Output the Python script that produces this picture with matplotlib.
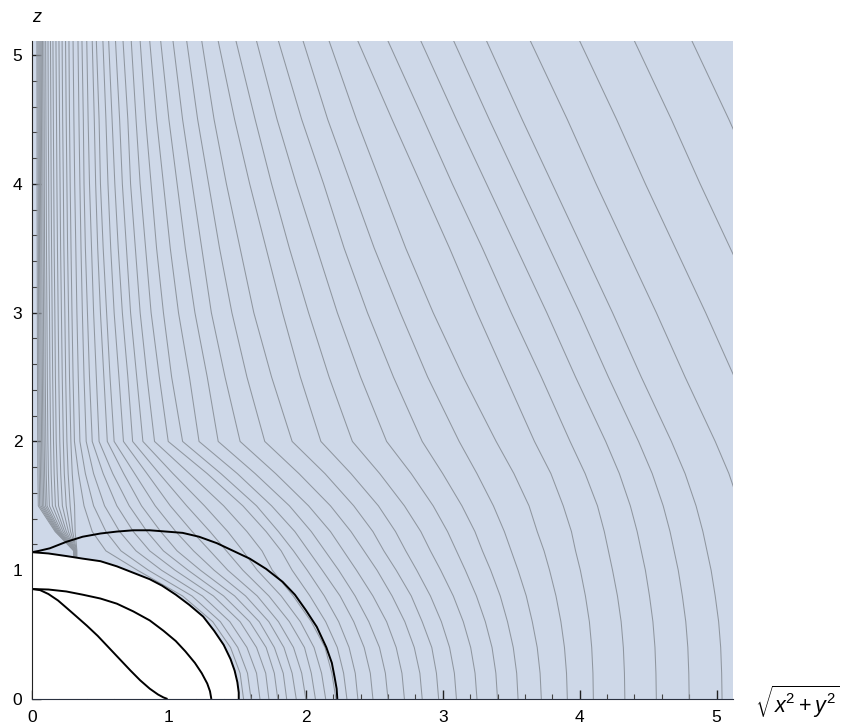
import matplotlib
matplotlib.use("Agg")
import matplotlib.pyplot as plt
import numpy as np
from matplotlib.ticker import MultipleLocator

plt.rcParams['font.family'] = ['Liberation Sans', 'DejaVu Sans']
plt.rcParams['mathtext.fontset'] = 'custom'
plt.rcParams['mathtext.rm'] = 'Liberation Sans'
plt.rcParams['mathtext.it'] = 'Liberation Sans:italic'

nan = np.nan

# black boundary curves (rho, z)
inner_ergo_x = [0.0, 0.06, 0.12, 0.19, 0.25, 0.32, 0.40, 0.48, 0.56, 0.64, 0.72, 0.79, 0.86, 0.92, 0.96, 0.99]
inner_ergo_z = [0.854, 0.845, 0.815, 0.765, 0.71, 0.645, 0.57, 0.49, 0.40, 0.31, 0.22, 0.145, 0.08, 0.035, 0.012, 0.0]
inner_hor_x = [0.0, 0.12, 0.25, 0.37, 0.50, 0.62, 0.74, 0.86, 0.96, 1.05, 1.12, 1.19, 1.24, 1.28, 1.30, 1.31]
inner_hor_z = [0.854, 0.85, 0.835, 0.81, 0.78, 0.74, 0.68, 0.61, 0.53, 0.45, 0.37, 0.28, 0.20, 0.12, 0.06, 0.0]
outer_hor_x = [0.0, 0.12, 0.25, 0.37, 0.50, 0.62, 0.74, 0.86, 0.95, 1.05, 1.15, 1.25, 1.33, 1.40, 1.45, 1.48, 1.50, 1.51, 1.51]
outer_hor_z = [1.14, 1.13, 1.11, 1.09, 1.07, 1.03, 0.98, 0.93, 0.88, 0.81, 0.73, 0.64, 0.53, 0.42, 0.31, 0.22, 0.13, 0.05, 0.0]
outer_ergo_x = [0.0, 0.05, 0.13, 0.25, 0.37, 0.50, 0.62, 0.74, 0.86, 0.98, 1.10, 1.22, 1.35, 1.47, 1.59,
                1.71, 1.83, 1.92, 2.00, 2.08, 2.15, 2.19, 2.21, 2.225, 2.23]
outer_ergo_z = [1.14, 1.15, 1.17, 1.22, 1.26, 1.285, 1.30, 1.31, 1.31, 1.30, 1.29, 1.26, 1.21, 1.15, 1.09,
                1.01, 0.91, 0.81, 0.69, 0.56, 0.40, 0.28, 0.17, 0.08, 0.0]

# gray contour lines: x position of every line where it crosses each height z
# (15 lines that end on the horizon, 29 that reach z = 0, 4 that leave on the right)
z_levels = [5.11, 4.5, 4.0, 3.5, 3.0, 2.5, 2.0, 1.75, 1.5, 1.3, 1.15, 1.0, 0.8, 0.6, 0.4, 0.2, 0.0]

x_z511 = [0.036, 0.044, 0.052, 0.06, 0.068, 0.077, 0.087, 0.10, 0.117, 0.135, 0.153, 0.175, 0.197, 0.22, 0.245,
          0.27, 0.30, 0.336, 0.365, 0.40, 0.44, 0.47, 0.518, 0.56, 0.61, 0.665, 0.725, 0.79, 0.86, 0.94, 1.03, 1.13, 1.24,
          1.36, 1.49, 1.64, 1.80, 1.98, 2.17, 2.38, 2.60, 2.84, 3.08, 3.32,
          3.64, 4.0, 4.4, 4.82]
x_z45 = [0.037, 0.045, 0.053, 0.061, 0.069, 0.079, 0.089, 0.102, 0.119, 0.138, 0.156, 0.179, 0.201, 0.224, 0.25,
         0.274, 0.306, 0.343, 0.375, 0.41, 0.455, 0.49, 0.54, 0.585, 0.64, 0.70, 0.76, 0.83, 0.91, 1.0, 1.10, 1.21, 1.33,
         1.48, 1.63, 1.79, 1.97, 2.16, 2.37, 2.63, 2.86, 3.10, 3.34, 3.58,
         3.91, 4.27, 4.67, 5.09]
x_z40 = [0.037, 0.046, 0.054, 0.062, 0.071, 0.08, 0.09, 0.104, 0.122, 0.14, 0.159, 0.182, 0.205, 0.229, 0.255,
         0.279, 0.312, 0.35, 0.38, 0.42, 0.465, 0.50, 0.555, 0.605, 0.66, 0.72, 0.79, 0.87, 0.96, 1.06, 1.17, 1.29, 1.42,
         1.59, 1.75, 1.93, 2.13, 2.33, 2.55, 2.84, 3.07, 3.32, 3.56, 3.80,
         4.12, 4.48, 4.88, 5.30]
x_z35 = [0.038, 0.047, 0.055, 0.064, 0.072, 0.082, 0.092, 0.106, 0.124, 0.143, 0.162, 0.186, 0.209, 0.233, 0.26,
         0.285, 0.32, 0.358, 0.39, 0.435, 0.48, 0.52, 0.575, 0.63, 0.69, 0.755, 0.83, 0.91, 1.01, 1.12, 1.24, 1.37, 1.52,
         1.71, 1.88, 2.08, 2.28, 2.50, 2.73, 3.05, 3.29, 3.54, 3.78, 4.02,
         4.34, 4.70, 5.10, 5.52]
x_z30 = [0.039, 0.048, 0.057, 0.065, 0.074, 0.084, 0.095, 0.109, 0.128, 0.147, 0.167, 0.191, 0.215, 0.24, 0.267,
         0.292, 0.328, 0.368, 0.405, 0.45, 0.50, 0.545, 0.60, 0.66, 0.72, 0.79, 0.87, 0.96, 1.07, 1.19, 1.31, 1.46, 1.62,
         1.83, 2.02, 2.23, 2.45, 2.69, 2.93, 3.25, 3.50, 3.76, 4.0, 4.24,
         4.56, 4.92, 5.32, 5.74]
x_z25 = [0.04, 0.049, 0.058, 0.067, 0.076, 0.086, 0.097, 0.112, 0.131, 0.151, 0.171, 0.196, 0.221, 0.246, 0.274,
         0.30, 0.338, 0.38, 0.42, 0.47, 0.525, 0.57, 0.635, 0.70, 0.765, 0.84, 0.93, 1.02, 1.15, 1.28, 1.41, 1.57, 1.75,
         1.96, 2.17, 2.40, 2.64, 2.89, 3.15, 3.46, 3.72, 3.97, 4.21, 4.45,
         4.77, 5.13, 5.53, 5.95]
x_z20 = [0.042, 0.051, 0.06, 0.07, 0.079, 0.089, 0.101, 0.116, 0.136, 0.157, 0.177, 0.203, 0.229, 0.255, 0.284,
         0.31, 0.35, 0.396, 0.44, 0.49, 0.55, 0.60, 0.668, 0.735, 0.81, 0.895, 0.995, 1.10, 1.22, 1.36, 1.52, 1.70, 1.90,
         2.11, 2.34, 2.59, 2.85, 3.12, 3.39, 3.67, 3.93, 4.19, 4.43, 4.67,
         4.99, 5.35, 5.75, 6.17]
x_z175 = [0.043, 0.053, 0.062, 0.072, 0.082, 0.092, 0.104, 0.12, 0.14, 0.162, 0.184, 0.21, 0.236, 0.264, 0.294,
          0.34, 0.39, 0.45, 0.52, 0.59, 0.67, 0.75, 0.84, 0.93, 1.03, 1.15, 1.28, 1.38, 1.50, 1.63, 1.78, 1.95, 2.14,
          2.33, 2.54, 2.77, 3.00, 3.25, 3.52, 3.79, 4.04, 4.29, 4.53, 4.77,
          5.09, 5.45, 5.85, 6.27]
x_z15 = [0.046, 0.056, 0.066, 0.076, 0.086, 0.098, 0.11, 0.127, 0.149, 0.171, 0.194, 0.222, 0.25, 0.279, 0.311,
         0.38, 0.45, 0.53, 0.62, 0.71, 0.80, 0.90, 1.01, 1.13, 1.26, 1.40, 1.54, 1.64, 1.75, 1.88, 2.02, 2.18, 2.35,
         2.53, 2.72, 2.93, 3.14, 3.37, 3.63, 3.88, 4.13, 4.37, 4.61, 4.85,
         5.17, 5.53, 5.93, 6.35]
x_z13 = [0.169, 0.175, 0.18, 0.186, 0.191, 0.198, 0.205, 0.214, 0.226, 0.238, 0.251, 0.266, 0.282, 0.297, 0.315,
         0.44, 0.54, 0.64, 0.74, 0.84, 0.94, 1.05, 1.17, 1.30, 1.43, 1.57, 1.71, 1.80, 1.92, 2.04, 2.18, 2.33, 2.49,
         2.655, 2.84, 3.035, 3.235, 3.45, 3.69, 3.94, 4.18, 4.42, 4.66, 4.90,
         5.22, 5.58, 5.98, 6.40]
x_z115 = [0.306, 0.307, 0.308, 0.308, 0.309, 0.31, 0.311, 0.313, 0.314, 0.316, 0.318, 0.32, 0.323, 0.325, 0.328,
          0.54, 0.65, 0.76, 0.86, 0.96, 1.06, 1.18, 1.30, 1.42, 1.54, 1.68, 1.82, 1.91, 2.02, 2.14, 2.275, 2.425, 2.57,
          2.73, 2.91, 3.10, 3.29, 3.50, 3.74, 3.97, 4.21, 4.45, 4.69, 4.93,
          5.25, 5.61, 6.01, 6.43]
x_z10 = [0.306, 0.307, 0.308, 0.308, 0.309, 0.31, 0.311, 0.313, 0.314, 0.316, 0.318, 0.32, 0.323, 0.325, 0.328,
         0.77, 0.85, 0.946, 1.045, 1.14, 1.23, 1.33, 1.43, 1.54, 1.645, 1.755, 1.90, 2.01, 2.12, 2.24, 2.37, 2.52, 2.66,
         2.81, 2.985, 3.165, 3.35, 3.55, 3.78, 4.005, 4.24, 4.48, 4.72, 4.96,
         5.28, 5.64, 6.04, 6.46]
x_z08 = [nan] * 15 + [
         1.10, 1.168, 1.245, 1.325, 1.40, 1.48, 1.56, 1.645, 1.73, 1.82, 1.908, 2.03, 2.135, 2.25, 2.36, 2.49, 2.63, 2.77,
         2.91, 3.077, 3.246, 3.42, 3.61, 3.827, 4.042, 4.276, 4.51, 4.75, 4.99,
         5.31, 5.67, 6.07, 6.49]
x_z06 = [nan] * 15 + [
         1.32, 1.376, 1.445, 1.52, 1.59, 1.66, 1.73, 1.80, 1.88, 1.96, 2.04, 2.145, 2.24, 2.35, 2.46, 2.59, 2.723, 2.85,
         2.99, 3.15, 3.311, 3.473, 3.654, 3.863, 4.071, 4.303, 4.535, 4.775, 5.015,
         5.335, 5.695, 6.095, 6.515]
x_z04 = [nan] * 15 + [
         1.45, 1.503, 1.57, 1.64, 1.71, 1.77, 1.84, 1.91, 1.99, 2.06, 2.14, 2.23, 2.316, 2.426, 2.538, 2.66, 2.792, 2.92,
         3.05, 3.204, 3.36, 3.515, 3.69, 3.889, 4.088, 4.319, 4.55, 4.79, 5.03,
         5.35, 5.71, 6.11, 6.53]
x_z02 = [nan] * 15 + [
         1.52, 1.574, 1.64, 1.707, 1.77, 1.835, 1.90, 1.97, 2.04, 2.115, 2.19, 2.276, 2.361, 2.471, 2.581, 2.702, 2.833, 2.954,
         3.085, 3.236, 3.388, 3.54, 3.711, 3.904, 4.097, 4.327, 4.557, 4.797, 5.037,
         5.357, 5.717, 6.117, 6.537]
x_z00 = [nan] * 15 + [
         1.545, 1.60, 1.665, 1.73, 1.795, 1.86, 1.93, 2.0, 2.07, 2.145, 2.22, 2.30, 2.38, 2.49, 2.60, 2.72, 2.85, 2.97,
         3.10, 3.25, 3.40, 3.55, 3.72, 3.91, 4.10, 4.33, 4.56, 4.80, 5.04,
         5.36, 5.72, 6.12, 6.54]

x_levels = [x_z511, x_z45, x_z40, x_z35, x_z30, x_z25, x_z20, x_z175, x_z15, x_z13, x_z115, x_z10,
            x_z08, x_z06, x_z04, x_z02, x_z00]

fig = plt.figure(figsize=(8.44, 7.25), dpi=100)
ax = fig.add_axes([0.0379, 0.0359, 0.8306, 0.9076])
ax.set_facecolor('#ced8e8')
ax.set_xlim(0, 5.12)
ax.set_ylim(0, 5.11)

for i in range(len(x_z511)):
    xs = np.array([lev[i] for lev in x_levels])
    zs = np.array(z_levels)
    ok = ~np.isnan(xs)
    ax.plot(xs[ok], zs[ok], color='#8f969f', lw=0.75, zorder=2)

# white inside the outer horizon
ax.fill(outer_hor_x + [0.0], outer_hor_z + [0.0], color='white', lw=0, zorder=3)

for cx, cz in [(inner_ergo_x, inner_ergo_z), (inner_hor_x, inner_hor_z),
               (outer_hor_x, outer_hor_z), (outer_ergo_x, outer_ergo_z)]:
    ax.plot(cx, cz, color='black', lw=1.4, zorder=4, solid_capstyle='butt')

for s in ['top', 'right']:
    ax.spines[s].set_visible(False)
ax.spines['left'].set_color('#222222')
ax.spines['bottom'].set_color('#2a3140')
ax.spines['left'].set_zorder(5)
ax.spines['bottom'].set_zorder(5)

ax.xaxis.set_major_locator(MultipleLocator(1))
ax.xaxis.set_minor_locator(MultipleLocator(0.2))
ax.yaxis.set_major_locator(MultipleLocator(1))
ax.yaxis.set_minor_locator(MultipleLocator(0.2))
ax.tick_params(which='major', direction='in', length=6.5, width=1, color='#222222', labelsize=12.5)
ax.tick_params(which='minor', direction='in', length=3.6, width=0.8, color='#444444')
ax.tick_params(axis='x', which='major', pad=8)
ax.tick_params(axis='y', which='major', pad=7)

fig.text(37 / 844, 1 - 18 / 725, '$z$', fontsize=13, ha='center', va='center')
fig.text(797 / 844, 1 - 702 / 725, r'$\sqrt{x^2+y^2}$', fontsize=15.5, ha='center', va='center')

fig.savefig('out.png', dpi=100)
